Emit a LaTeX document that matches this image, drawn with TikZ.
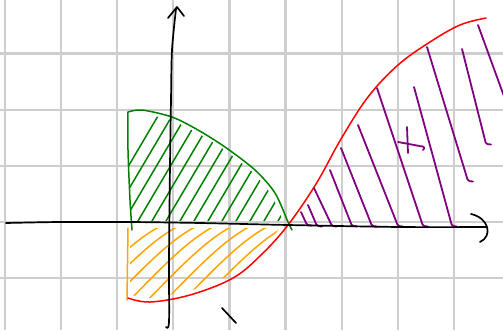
\documentclass[tikz,border=0pt]{standalone}
\usetikzlibrary{calc}
\definecolor{penred}{RGB}{255,0,0}
\definecolor{pengreen}{RGB}{0,128,0}
\definecolor{penorange}{RGB}{255,165,0}
\definecolor{penpurple}{RGB}{128,0,128}
\definecolor{gridgray}{RGB}{206,206,206}

\begin{document}
\begin{tikzpicture}[x=1pt, y=-1pt,
    gridline/.style={gridgray, line width=2.2pt},
    axis/.style={black, line width=1.7pt, line cap=round, line join=round},
    pen/.style={line width=1.5pt, line cap=round, line join=round},
    hatchpen/.style={line width=1.5pt, line cap=round, line join=round},
    purplepen/.style={penpurple, line width=1.8pt, line cap=round, line join=round, rounded corners=1.5pt}
]
    \useasboundingbox (0,0) rectangle (503,330);

    % squared paper
    \foreach \gx in {5,61.1,...,460}
        \draw[gridline] (\gx,0) -- (\gx,330);
    \foreach \gy in {53.4,109.6,...,300}
        \draw[gridline] (0,\gy) -- (503,\gy);

    % green area above the axis
    \begin{scope}
        \clip (131,221) -- (129,170) -- (129,114) -- (142,113) -- (172,120) -- (198,133)
              -- (225,150) -- (253,172) -- (272,195) -- (283,221) -- cycle;
        \foreach \hx in {96,110,...,300}
            \draw[pengreen, hatchpen] (\hx,221) -- ++(72,-122);
    \end{scope}

    % orange area below the axis
    \begin{scope}
        \clip (130,228) -- (130,295) -- (150,298) -- (190,291) -- (231,275)
              -- (258,255) -- (280,228) -- cycle;
        \foreach \hx in {60,78,...,300}
            \draw[penorange, hatchpen] (\hx,316) .. controls ++(50,-50) and ++(-40,12) .. ++(120,-98);
    \end{scope}

    % outlines
    \draw[pengreen, pen] plot[smooth] coordinates {(132,230) (130,200) (128,150) (128,112)};
    \draw[pengreen, pen] plot[smooth] coordinates {(128,112) (142,110) (172,117) (198,130)
        (225,147) (255,170) (275,193) (288,222) (292,230)};
    \draw[penorange, pen] (128,228) -- (127,300);
    \draw[penred, pen] plot[smooth, tension=0.6] coordinates {(128,298) (150,302) (190,295)
        (233,278) (262,254) (288,225) (316,184) (341,139) (368,97) (398,65) (430,42)
        (460,25) (486,18)};

    % purple strokes right of the crossing
    \foreach \tx/\ty/\bx/\by in {301/212/307/225, 308/205/317/226, 314/188/332/226,
            330/170/352/226, 341/148/372/226, 358/125/398/226, 377/88/423/226,
            414/87/452/226, 427/47/468/181, 462/49/486/144}
        \draw[purplepen] (\tx,\ty) -- (\bx,\by) -- ++(5,0.5);
    \draw[purplepen] (478,25) -- (505,99);
    \draw[purplepen] (407,127) -- (408,153);
    \draw[purplepen] (398,142) -- (425,147) -- (423,150);

    % axes
    \draw[axis] plot[smooth] coordinates {(6,223) (60,222) (130,222) (200,223) (288,225)
        (400,227) (487,227)};
    \draw[axis] (471,214) .. controls (489,218) and (493,236) .. (480,242);
    \draw[axis] plot[smooth] coordinates {(166,327) (169,322) (169,260) (170,165) (171,100)
        (172,50) (176,9)};
    \draw[axis] (168,18) -- (177,7) -- (184,16);
    \draw[axis] (222,308) -- (236,323);
\end{tikzpicture}
\end{document}
